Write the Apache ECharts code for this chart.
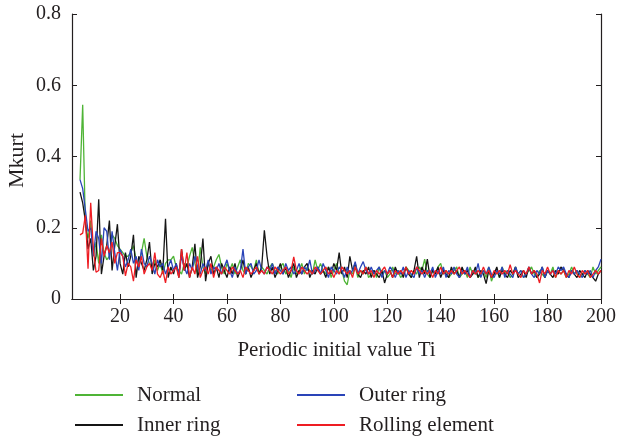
<!DOCTYPE html>
<html>
<head>
<meta charset="utf-8">
<script src="https://cdn.jsdelivr.net/npm/echarts@6/dist/echarts.min.js"></script>
<style>
  html, body { margin: 0; padding: 0; background: #fff; }
  #chart { width: 617px; height: 441px; }
</style>
</head>
<body>
<div id="chart"></div>
<script>
// Periodic initial value Ti runs from tiStart upward in steps of 1
const tiStart = 5;
const xTicks = [20, 40, 60, 80, 100, 120, 140, 160, 180, 200];
const yTicks = [0, 0.2, 0.4, 0.6, 0.8];

const normal = [
  0.335, 0.545, 0.21, 0.17, 0.22, 0.12, 0.16, 0.10, 0.18, 0.13,
  0.11, 0.12, 0.18, 0.17, 0.15, 0.14, 0.13, 0.12, 0.12, 0.13,
  0.15, 0.11, 0.09, 0.13, 0.17, 0.12, 0.10, 0.09, 0.11, 0.08,
  0.10, 0.07, 0.10, 0.11, 0.11, 0.12, 0.09, 0.08, 0.07, 0.10,
  0.09, 0.12, 0.145, 0.10, 0.07, 0.145, 0.09, 0.07, 0.10, 0.08,
  0.09, 0.11, 0.125, 0.09, 0.07, 0.10, 0.08, 0.10, 0.07, 0.09,
  0.11, 0.08, 0.07, 0.10, 0.09, 0.08, 0.11, 0.07, 0.09, 0.08,
  0.07, 0.09, 0.10, 0.08, 0.07, 0.09, 0.10, 0.07, 0.08, 0.06,
  0.09, 0.07, 0.08, 0.10, 0.07, 0.09, 0.08, 0.07, 0.11, 0.08,
  0.10, 0.08, 0.07, 0.09, 0.06, 0.08, 0.10, 0.07, 0.08, 0.05,
  0.04, 0.08, 0.07, 0.09, 0.06, 0.08, 0.07, 0.09, 0.06, 0.07,
  0.08, 0.06, 0.09, 0.07, 0.08, 0.06, 0.07, 0.09, 0.07, 0.08,
  0.06, 0.07, 0.09, 0.08, 0.06, 0.08, 0.07, 0.09, 0.08, 0.112,
  0.07, 0.06, 0.08, 0.07, 0.09, 0.10, 0.07, 0.08, 0.06, 0.07,
  0.08, 0.09, 0.06, 0.07, 0.08, 0.06, 0.09, 0.07, 0.08, 0.06,
  0.07, 0.08, 0.06, 0.09, 0.05, 0.07, 0.08, 0.06, 0.09, 0.07,
  0.08, 0.06, 0.07, 0.09, 0.07, 0.08, 0.06, 0.07, 0.08, 0.09,
  0.07, 0.06, 0.08, 0.07, 0.06, 0.08, 0.07, 0.09, 0.06, 0.08,
  0.07, 0.08, 0.06, 0.07, 0.09, 0.07, 0.08, 0.06, 0.07, 0.08,
  0.07, 0.06, 0.09, 0.07, 0.08, 0.09
];

const innerRing = [
  0.30, 0.27, 0.22, 0.14, 0.17, 0.08, 0.12, 0.28, 0.07, 0.12,
  0.15, 0.22, 0.08, 0.15, 0.21, 0.10, 0.07, 0.13, 0.09, 0.12,
  0.18, 0.06, 0.12, 0.10, 0.08, 0.11, 0.16, 0.07, 0.10, 0.09,
  0.11, 0.08, 0.225, 0.06, 0.09, 0.07, 0.10, 0.06, 0.14, 0.08,
  0.10, 0.06, 0.09, 0.155, 0.06, 0.09, 0.17, 0.05, 0.10, 0.12,
  0.07, 0.09, 0.06, 0.10, 0.08, 0.06, 0.09, 0.07, 0.10, 0.06,
  0.08, 0.11, 0.07, 0.09, 0.06, 0.08, 0.10, 0.07, 0.09, 0.193,
  0.12, 0.07, 0.09, 0.06, 0.08, 0.10, 0.07, 0.09, 0.06, 0.08,
  0.10, 0.06, 0.08, 0.07, 0.09, 0.10, 0.06, 0.08, 0.07, 0.09,
  0.07, 0.08, 0.06, 0.09, 0.07, 0.10, 0.08, 0.13, 0.07, 0.09,
  0.06, 0.12, 0.08, 0.10, 0.07, 0.06, 0.08, 0.07, 0.09, 0.06,
  0.08, 0.07, 0.06, 0.08, 0.045, 0.07, 0.08, 0.06, 0.09, 0.07,
  0.08, 0.06, 0.09, 0.07, 0.06, 0.08, 0.12, 0.06, 0.09, 0.07,
  0.112, 0.06, 0.08, 0.07, 0.09, 0.06, 0.08, 0.07, 0.06, 0.09,
  0.07, 0.08, 0.06, 0.09, 0.07, 0.08, 0.06, 0.07, 0.09, 0.06,
  0.08, 0.07, 0.043, 0.08, 0.06, 0.07, 0.09, 0.06, 0.08, 0.07,
  0.06, 0.08, 0.07, 0.09, 0.06, 0.07, 0.08, 0.06, 0.09, 0.07,
  0.08, 0.06, 0.07, 0.09, 0.06, 0.08, 0.07, 0.06, 0.08, 0.07,
  0.09, 0.08, 0.07, 0.06, 0.08, 0.07, 0.06, 0.08, 0.07, 0.06,
  0.08, 0.07, 0.06, 0.05, 0.07, 0.08
];

const outerRing = [
  0.335, 0.31, 0.25, 0.19, 0.20, 0.12, 0.19, 0.17, 0.10, 0.20,
  0.19, 0.11, 0.19, 0.13, 0.08, 0.14, 0.12, 0.09, 0.11, 0.14,
  0.10, 0.12, 0.08, 0.14, 0.10, 0.09, 0.12, 0.10, 0.07, 0.11,
  0.09, 0.10, 0.07, 0.09, 0.11, 0.08, 0.10, 0.07, 0.12, 0.09,
  0.07, 0.10, 0.08, 0.12, 0.09, 0.07, 0.10, 0.08, 0.11, 0.07,
  0.09, 0.08, 0.10, 0.07, 0.09, 0.11, 0.08, 0.06, 0.09, 0.07,
  0.08, 0.14, 0.07, 0.09, 0.10, 0.07, 0.08, 0.11, 0.08, 0.07,
  0.09, 0.08, 0.10, 0.07, 0.09, 0.08, 0.07, 0.10, 0.08, 0.09,
  0.07, 0.08, 0.10, 0.07, 0.09, 0.08, 0.11, 0.07, 0.08, 0.09,
  0.07, 0.10, 0.08, 0.06, 0.09, 0.08, 0.07, 0.09, 0.08, 0.06,
  0.09, 0.07, 0.08, 0.105, 0.07, 0.09, 0.105, 0.08, 0.07, 0.09,
  0.07, 0.08, 0.09, 0.06, 0.08, 0.07, 0.09, 0.08, 0.06, 0.08,
  0.07, 0.09, 0.06, 0.08, 0.07, 0.06, 0.09, 0.07, 0.08, 0.06,
  0.08, 0.07, 0.09, 0.06, 0.08, 0.07, 0.09, 0.06, 0.08, 0.07,
  0.09, 0.07, 0.06, 0.08, 0.07, 0.09, 0.06, 0.08, 0.07, 0.10,
  0.06, 0.08, 0.07, 0.09, 0.07, 0.06, 0.08, 0.07, 0.09, 0.06,
  0.08, 0.07, 0.06, 0.09, 0.07, 0.08, 0.06, 0.07, 0.09, 0.07,
  0.06, 0.08, 0.07, 0.09, 0.06, 0.08, 0.07, 0.08, 0.07, 0.09,
  0.08, 0.09, 0.07, 0.06, 0.08, 0.07, 0.08, 0.07, 0.06, 0.08,
  0.07, 0.08, 0.06, 0.08, 0.09, 0.112
];

const rollingElement = [
  0.18, 0.185, 0.235, 0.085, 0.27, 0.14, 0.075, 0.08, 0.17, 0.12,
  0.15, 0.13, 0.16, 0.10, 0.13, 0.13, 0.12, 0.065, 0.10, 0.09,
  0.05, 0.11, 0.09, 0.12, 0.07, 0.09, 0.10, 0.08, 0.13, 0.07,
  0.06, 0.08, 0.045, 0.09, 0.07, 0.08, 0.09, 0.06, 0.14, 0.08,
  0.13, 0.06, 0.09, 0.07, 0.12, 0.06, 0.08, 0.09, 0.07, 0.10,
  0.06, 0.09, 0.08, 0.07, 0.09, 0.08, 0.07, 0.09, 0.08, 0.07,
  0.08, 0.06, 0.09, 0.08, 0.07, 0.08, 0.09, 0.07, 0.08, 0.07,
  0.09, 0.08, 0.07, 0.09, 0.08, 0.07, 0.08, 0.09, 0.07, 0.08,
  0.118, 0.08, 0.07, 0.09, 0.08, 0.07, 0.08, 0.07, 0.09, 0.08,
  0.07, 0.08, 0.09, 0.07, 0.08, 0.06, 0.08, 0.07, 0.09, 0.08,
  0.07, 0.08, 0.06, 0.09, 0.07, 0.08, 0.07, 0.09, 0.07, 0.08,
  0.06, 0.08, 0.07, 0.08, 0.09, 0.07, 0.08, 0.06, 0.08, 0.07,
  0.08, 0.07, 0.09, 0.07, 0.08, 0.07, 0.09, 0.08, 0.07, 0.08,
  0.07, 0.08, 0.06, 0.08, 0.07, 0.09, 0.07, 0.08, 0.07, 0.08,
  0.07, 0.08, 0.09, 0.07, 0.08, 0.07, 0.06, 0.08, 0.07, 0.08,
  0.07, 0.09, 0.07, 0.08, 0.06, 0.08, 0.07, 0.08, 0.07, 0.08,
  0.07, 0.096, 0.07, 0.08, 0.07, 0.06, 0.08, 0.07, 0.09, 0.07,
  0.08, 0.07, 0.045, 0.08, 0.07, 0.09, 0.07, 0.08, 0.06, 0.08,
  0.07, 0.08, 0.06, 0.08, 0.07, 0.09, 0.07, 0.06, 0.08, 0.07,
  0.08, 0.06, 0.07, 0.08, 0.07, 0.08
];

const seriesNames = ['Normal', 'Inner ring', 'Outer ring', 'Rolling element'];
const seriesColors = ['#4fb436', '#151515', '#2a44b8', '#ee1d23'];
const seriesValues = [normal, innerRing, outerRing, rollingElement];

const ink = '#231f20';
const fontFamily = '"Liberation Serif", "DejaVu Serif", serif';

function toPoints(values) {
  return values.map((v, i) => [tiStart + i, v]);
}

// Legend is a 2x2 block: one legend component per entry
const legendSlots = [
  { left: 75, top: 383 },
  { left: 75, top: 413 },
  { left: 297, top: 383 },
  { left: 297, top: 413 }
];

const chart = echarts.init(document.getElementById('chart'), null, { renderer: 'canvas' });

const hiddenAxisParts = {
  axisLine: { show: true, lineStyle: { color: ink, width: 1.2 } },
  axisLabel: { show: false },
  splitLine: { show: false }
};

chart.setOption({
  animation: false,
  backgroundColor: '#fff',
  textStyle: { fontFamily: fontFamily },
  grid: { left: 72, right: 16, top: 14, bottom: 142, containLabel: false, outerBoundsMode: 'none' },
  legend: seriesNames.map((name, k) => ({
    orient: 'horizontal',
    left: legendSlots[k].left,
    top: legendSlots[k].top,
    padding: 0,
    itemWidth: 48,
    itemHeight: 2,
    icon: 'rect',
    selectedMode: false,
    data: [name],
    textStyle: { fontFamily: fontFamily, fontSize: 21, color: ink, lineHeight: 24, padding: [0, 0, 0, 9] }
  })),
  xAxis: [
    {
      type: 'value',
      min: 2,
      max: 200,
      position: 'bottom',
      name: 'Periodic initial value Ti',
      nameLocation: 'middle',
      nameGap: 41,
      nameMoveOverlap: false,
      nameTextStyle: { fontFamily: fontFamily, fontSize: 21, color: ink },
      axisLine: { show: true, lineStyle: { color: ink, width: 1.2 } },
      axisTick: { show: true, inside: true, length: 5, customValues: xTicks, lineStyle: { color: ink } },
      axisLabel: { show: true, margin: 8, customValues: xTicks, fontFamily: fontFamily, fontSize: 20, color: ink },
      splitLine: { show: false }
    },
    Object.assign({
      type: 'value',
      min: 2,
      max: 200,
      position: 'top',
      axisTick: { show: true, inside: true, length: 5, customValues: xTicks, lineStyle: { color: ink } }
    }, hiddenAxisParts)
  ],
  yAxis: [
    {
      type: 'value',
      min: 0,
      max: 0.8,
      interval: 0.2,
      position: 'left',
      name: 'Mkurt',
      nameLocation: 'middle',
      nameGap: 44,
      nameMoveOverlap: false,
      nameTextStyle: { fontFamily: fontFamily, fontSize: 22, color: ink, padding: [0, 8, 0, 0] },
      axisLine: { show: true, lineStyle: { color: ink, width: 1.2 } },
      axisTick: { show: true, inside: true, length: 5, lineStyle: { color: ink } },
      axisLabel: {
        show: true, margin: 11, fontFamily: fontFamily, fontSize: 20, color: ink,
        formatter: (v) => (yTicks.indexOf(+v.toFixed(1)) >= 0 ? String(+v.toFixed(1)) : '')
      },
      splitLine: { show: false }
    },
    Object.assign({
      type: 'value',
      min: 0,
      max: 0.8,
      interval: 0.2,
      position: 'right',
      axisTick: { show: true, inside: true, length: 5, lineStyle: { color: ink } }
    }, hiddenAxisParts)
  ],
  series: seriesNames.map((name, k) => ({
    name: name,
    type: 'line',
    xAxisIndex: 0,
    yAxisIndex: 0,
    data: toPoints(seriesValues[k]),
    showSymbol: false,
    symbol: 'none',
    color: seriesColors[k],
    lineStyle: { color: seriesColors[k], width: 1.3 },
    itemStyle: { color: seriesColors[k] },
    emphasis: { disabled: true }
  }))
});
</script>
</body>
</html>
